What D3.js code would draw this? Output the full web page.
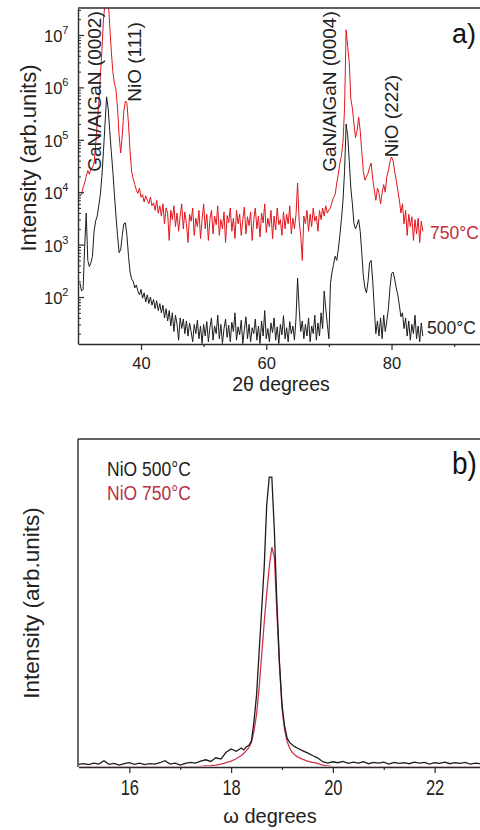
<!DOCTYPE html>
<html><head><meta charset="utf-8">
<script src="https://cdn.jsdelivr.net/npm/d3@7"></script>
<style>
html,body{margin:0;padding:0;background:#fff;}
svg{display:block;font-family:"Liberation Sans",Arial,sans-serif;}
</style></head><body>
<svg id="c" width="480" height="830"></svg>
<script>
// ---------- Panel a) : 2theta scan, sampled every 0.25 deg from 30.25 to 85.00 ----------
const twoThetaStart = 30.25;
const twoThetaStep = 0.25;
// rows: degree d -> values at d+.25, d+.5, d+.75, d+1
const i500 = [
  185,130,140,900,            // 30
  4000,500,380,450,           // 31
  600,1800,2800,3500,         // 32
  5500,9000,20000,60000,      // 33
  200000,660000,400000,150000,// 34
  60000,25000,9000,3500,      // 35
  1500,700,800,1500,          // 36
  2500,2600,1500,600,         // 37
  300,220,200,150,            // 38
  170,130,110,140,            // 39
  95,120,80,110,              // 40
  75,100,70,90,               // 41
  60,85,55,75,                // 42
  50,70,40,60,                // 43
  35,55,28,50,                // 44
  22,45,30,15,                // 45
  40,25,38,20,                // 46
  35,18,32,22,                // 47
  14,30,20,36,                // 48
  16,28,13,30,                // 49
  18,34,14,26,                // 50
  40,15,28,20,                // 51
  45,16,30,13,                // 52
  25,38,17,29,                // 53
  14,33,22,50,                // 54
  15,27,19,36,                // 55
  13,24,42,16,                // 56
  30,14,26,20,                // 57
  38,15,28,13,                // 58
  35,18,55,16,                // 59
  25,14,32,21,                // 60
  40,15,27,13,                // 61
  30,19,44,16,                // 62
  26,14,34,20,                // 63
  28,15,40,230,               // 64
  60,22,35,16,                // 65
  30,18,40,14,                // 66
  28,20,45,15,                // 67
  32,18,50,25,                // 68
  130,60,30,16,               // 69
  180,300,420,600,            // 70
  500,800,1500,3000,          // 71
  7000,25000,200000,120000,   // 72
  40000,12000,6000,2500,      // 73
  2000,2400,3000,1800,        // 74
  700,250,150,120,            // 75
  200,450,500,200,            // 76
  60,20,35,18,                // 77
  40,16,45,22,                // 78
  35,60,150,280,              // 79
  300,220,150,110,            // 80
  70,42,50,25,                // 81
  40,18,35,15,                // 82
  30,20,45,16,                // 83
  28,14,32,18                 // 84
];
const i750 = [
  8400,9000,12500,15000,            // 30
  20000,26000,22000,28000,          // 31
  30000,36000,80000,200000,         // 32
  500000,1600000,5000000,20000000,  // 33
  40000000,80000000,50000000,15000000, // 34
  5000000,2000000,1200000,900000,   // 35
  400000,120000,56000,120000,       // 36
  350000,550000,500000,200000,      // 37
  60000,25000,18000,14000,          // 38
  11000,9500,12000,8000,            // 39
  9000,6500,8500,7000,              // 40
  6000,8000,5500,6300,              // 41
  4500,7000,4000,5500,              // 42
  3500,6000,2500,5000,              // 43
  4000,1200,4500,3000,              // 44
  5500,2200,4000,1800,              // 45
  3500,6000,2000,4200,              // 46
  2500,1100,3800,2800,              // 47
  5000,1500,3200,2200,              // 48
  4500,1300,3000,6000,              // 49
  2000,3800,1200,3000,              // 50
  4500,1600,3500,2400,              // 51
  5500,1500,3000,2000,              // 52
  4200,1100,3600,2600,              // 53
  5000,1800,3200,1300,              // 54
  4500,2500,3800,1500,              // 55
  3000,5200,1600,3400,              // 56
  2300,4200,1200,3000,              // 57
  5000,2000,3500,1400,              // 58
  4000,2600,6000,1700,              // 59
  3200,2200,4500,1300,              // 60
  3500,1900,5000,2400,              // 61
  3000,1500,4200,2000,              // 62
  3800,2500,5500,1600,              // 63
  3200,2000,3800,15000,             // 64
  2800,1500,500,3500,               // 65
  2500,4500,1800,3800,              // 66
  2200,5000,2800,3500,              // 67
  1800,4500,3000,5000,              // 68
  3500,5500,4000,4600,              // 69
  5000,6500,8000,9000,              // 70
  15000,22000,35000,50000,          // 71
  90000,400000,12500000,6000000,    // 72
  3000000,600000,400000,200000,     // 73
  110000,150000,270000,150000,      // 74
  60000,25000,17000,20000,          // 75
  23000,30000,36000,18000,          // 76
  11000,7000,12000,9600,            // 77
  6000,9600,14000,10000,            // 78
  20000,26000,38000,47000,          // 79
  40000,25000,17000,11000,          // 80
  7100,4000,6000,2500,              // 81
  4500,1500,3800,2200,              // 82
  3400,1200,3000,1600,              // 83
  3200,1100,2800,1800               // 84
];
const xTicksA = [40, 60, 80];
const xMinorA = [50, 70, 90];
const yTicksA = [1e2, 1e3, 1e4, 1e5, 1e6, 1e7];
const peakLabels = [
  {text: "GaN/AlGaN (0002)", pos: 33.6},
  {text: "NiO (111)", pos: 39.95},
  {text: "GaN/AlGaN (0004)", pos: 71.2},
  {text: "NiO (222)", pos: 81.05}
];

// ---------- Panel b) : omega (rocking) scan ----------
const omega = [
  15.0,15.1,15.2,15.3,15.4,15.5,15.6,15.7,15.8,15.9,
  16.0,16.1,16.2,16.3,16.4,16.5,16.6,16.7,16.8,16.9,
  17.0,17.1,17.2,17.3,17.4,17.5,17.6,17.7,17.8,17.9,
  18.0,18.1,18.2,
  18.25,18.3,18.35,18.4,18.45,18.5,18.55,18.6,18.65,18.7,18.75,
  18.8,18.85,18.9,18.95,19.0,19.05,19.1,19.15,19.2,19.25,19.3,
  19.4,19.5,19.6,19.7,19.8,19.9,
  20.0,20.1,20.2,20.3,20.4,20.5,20.6,20.7,20.8,20.9,
  21.0,21.1,21.2,21.3,21.4,21.5,21.6,21.7,21.8,21.9,
  22.0,22.1,22.2,22.3,22.4,22.5,22.6,22.7,22.8,22.9,
  23.0
];
const nio500 = [
  8,10,7,12,9,19,8,11,6,10,
  13,8,12,7,10,9,13,19,9,12,
  6,11,14,12,18,22,17,28,24,45,
  55,48,58,
  52,62,66,80,140,220,350,480,610,800,884,
  884,720,500,320,190,125,88,75,68,62,58,
  50,43,35,28,16,12,
  16,13,17,11,15,12,16,10,14,12,
  15,9,14,11,13,10,15,12,14,9,
  13,11,15,10,13,11,14,9,12,10,
  13
];
const nio750 = [
  0,0,0,0,0,0,0,0,0,0,
  0,0,0,0,0,0,0,0,0,0,
  0,0,1,1,2,3,4,6,9,13,
  18,25,35,
  42,50,60,75,110,160,240,340,440,530,610,
  670,640,470,310,180,115,78,58,45,37,31,
  24,18,14,11,6,3,
  1,0,0,0,0,0,0,0,0,0,
  0,0,0,0,0,0,0,0,0,0,
  0,0,0,0,0,0,0,0,0,0,
  0
];
const xTicksB = [16, 18, 20, 22];
const xMinorB = [17, 19, 21, 23];

// ---------- drawing ----------
const svg = d3.select("#c");
const axisCol = "#2b2b2b";
const redA = "#e3151c";
const redB = "#d0334a";
const blackLine = "#1c1c1c";

// ===== Panel a =====
const A = {left: 78, top: 8, bottom: 344};
const xA = d3.scaleLinear().domain([30, 100]).range([78.4, 78.4 + 70 * 6.2625]);
const yA = d3.scaleLog().domain([12.7, 3.27e7]).range([A.bottom, A.top]);
const thetaOf = i => twoThetaStart + i * twoThetaStep;

svg.append("clipPath").attr("id", "clipA").append("rect")
  .attr("x", A.left).attr("y", A.top).attr("width", 460).attr("height", A.bottom - A.top);

const lineA = d3.line().x((d, i) => xA(thetaOf(i))).y(d => yA(d));
const gA = svg.append("g").attr("clip-path", "url(#clipA)");
gA.append("path").datum(i750).attr("d", lineA)
  .attr("fill", "none").attr("stroke", redA).attr("stroke-width", 1);
gA.append("path").datum(i500).attr("d", lineA)
  .attr("fill", "none").attr("stroke", blackLine).attr("stroke-width", 1);

// frame top
svg.append("line").attr("x1", A.left).attr("x2", 480).attr("y1", A.top).attr("y2", A.top)
  .attr("stroke", axisCol).attr("stroke-width", 1.4);
// x axis a
const xAxisA = d3.axisBottom(xA).tickValues(xTicksA).tickSize(6).tickSizeOuter(0).tickFormat(d3.format("d"));
const gxA = svg.append("g").attr("transform", `translate(0,${A.bottom})`).call(xAxisA);
gxA.select(".domain").attr("stroke", axisCol).attr("stroke-width", 1.4);
gxA.selectAll(".tick line").attr("stroke", axisCol).attr("stroke-width", 1.2);
gxA.selectAll(".tick text").attr("font-size", 16.5).attr("fill", "#222").attr("dy", "0.95em")
  .attr("font-family", "Liberation Sans, Arial, sans-serif");
const gxAm = svg.append("g").attr("transform", `translate(0,${A.bottom})`)
  .call(d3.axisBottom(xA).tickValues(xMinorA).tickSize(3).tickFormat(""));
gxAm.select(".domain").remove();
gxAm.selectAll(".tick line").attr("stroke", axisCol).attr("stroke-width", 1.2);

// y axis a (ticks inward)
const yAxisA = d3.axisRight(yA).tickValues(yTicksA).tickSize(6).tickSizeOuter(0).tickFormat("");
const gyA = svg.append("g").attr("transform", `translate(${A.left},0)`).call(yAxisA);
gyA.select(".domain").attr("stroke", axisCol).attr("stroke-width", 1.4);
gyA.selectAll(".tick line").attr("stroke", axisCol).attr("stroke-width", 1.2);
const minorA = [];
for (let e = 1; e <= 7; e++) for (let k = 2; k <= 9; k++) {
  const v = k * Math.pow(10, e);
  if (v > yA.domain()[0] && v < yA.domain()[1]) minorA.push(v);
}
const gyAm = svg.append("g").attr("transform", `translate(${A.left},0)`)
  .call(d3.axisRight(yA).tickValues(minorA).tickSize(3).tickFormat(""));
gyAm.select(".domain").remove();
gyAm.selectAll(".tick line").attr("stroke", axisCol).attr("stroke-width", 1);

// y tick labels 10^n
yTicksA.forEach(v => {
  const t = svg.append("text").attr("x", 44).attr("y", yA(v) + 7)
    .attr("font-size", 16.5).attr("fill", "#222");
  t.append("tspan").text("10");
  t.append("tspan").attr("font-size", 11).attr("dy", -8).text(String(Math.round(Math.log10(v))));
});

// axis titles a
svg.append("text").attr("transform", `translate(35.5,158) rotate(-90)`)
  .attr("text-anchor", "middle").attr("font-size", 22).attr("fill", "#222")
  .text("Intensity (arb.units)");
svg.append("text").attr("x", 281).attr("y", 391).attr("text-anchor", "middle")
  .attr("font-size", 19.5).attr("fill", "#222").text("2θ degrees");

// peak annotations
const annoY = [91.5, 62, 91.5, 116];
peakLabels.forEach((p, i) => {
  svg.append("text").attr("transform", `translate(${xA(p.pos)},${annoY[i]}) rotate(-90)`)
    .attr("text-anchor", "middle").attr("font-size", 19).attr("fill", "#222").text(p.text);
});
svg.append("text").attr("x", 452).attr("y", 43).attr("font-size", 27).attr("fill", "#111").text("a)");
svg.append("text").attr("x", 430).attr("y", 239).attr("font-size", 17.5).attr("fill", "#c8283a").text("750°C");
svg.append("text").attr("x", 427).attr("y", 334).attr("font-size", 17.5).attr("fill", "#222").text("500°C");

// ===== Panel b =====
const B = {left: 78, top: 439, bottom: 767};
const xB = d3.scaleLinear().domain([15, 23]).range([78.5, 78.5 + 8 * 50.875]);
const yB = d3.scaleLinear().domain([0, 1000]).range([B.bottom, B.top]);

svg.append("clipPath").attr("id", "clipB").append("rect")
  .attr("x", B.left).attr("y", B.top).attr("width", 420).attr("height", B.bottom - B.top - 0.8);
const lineB = d3.line().x((d, i) => xB(omega[i])).y(d => yB(d));
const gB = svg.append("g").attr("clip-path", "url(#clipB)");
gB.append("path").datum(nio750).attr("d", lineB)
  .attr("fill", "none").attr("stroke", redB).attr("stroke-width", 1.3);
gB.append("path").datum(nio500).attr("d", lineB)
  .attr("fill", "none").attr("stroke", blackLine).attr("stroke-width", 1.3);

svg.append("line").attr("x1", B.left).attr("x2", 480).attr("y1", B.top).attr("y2", B.top)
  .attr("stroke", axisCol).attr("stroke-width", 1.4);
svg.append("line").attr("x1", B.left).attr("x2", B.left).attr("y1", B.top).attr("y2", B.bottom)
  .attr("stroke", axisCol).attr("stroke-width", 1.4);

const gxB = svg.append("g").attr("transform", `translate(0,${B.bottom})`)
  .call(d3.axisBottom(xB).tickValues(xTicksB).tickSize(6).tickSizeOuter(0).tickFormat(d3.format("d")));
gxB.select(".domain").attr("stroke", axisCol).attr("stroke-width", 1.6);
gxB.selectAll(".tick line").attr("stroke", axisCol).attr("stroke-width", 1.2);
gxB.selectAll(".tick text").attr("font-size", 16.5).attr("fill", "#222")
  .attr("font-family", "Liberation Sans, Arial, sans-serif")
  .attr("y", 0).attr("dy", 0)
  .attr("transform", "translate(0,28) scale(1,1.3)");
const gxBm = svg.append("g").attr("transform", `translate(0,${B.bottom})`)
  .call(d3.axisBottom(xB).tickValues(xMinorB).tickSize(3).tickFormat(""));
gxBm.select(".domain").remove();
gxBm.selectAll(".tick line").attr("stroke", axisCol).attr("stroke-width", 1.2);

svg.append("text").attr("transform", `translate(38.5,603) rotate(-90)`)
  .attr("text-anchor", "middle").attr("font-size", 22.5).attr("fill", "#222")
  .text("Intensity (arb.units)");
svg.append("text").attr("x", 270).attr("y", 823).attr("text-anchor", "middle")
  .attr("font-size", 20).attr("fill", "#222").text("ω degrees");

svg.append("text").attr("transform", "translate(107,476) scale(1,1.2)")
  .attr("font-size", 17.5).attr("fill", "#222").text("NiO 500°C");
svg.append("text").attr("transform", "translate(107,500) scale(1,1.2)")
  .attr("font-size", 17.5).attr("fill", "#b8304a").text("NiO 750°C");
svg.append("text").attr("transform", "translate(452,474) scale(1,1.15)")
  .attr("font-size", 28).attr("fill", "#111").text("b)");
</script>
</body></html>
